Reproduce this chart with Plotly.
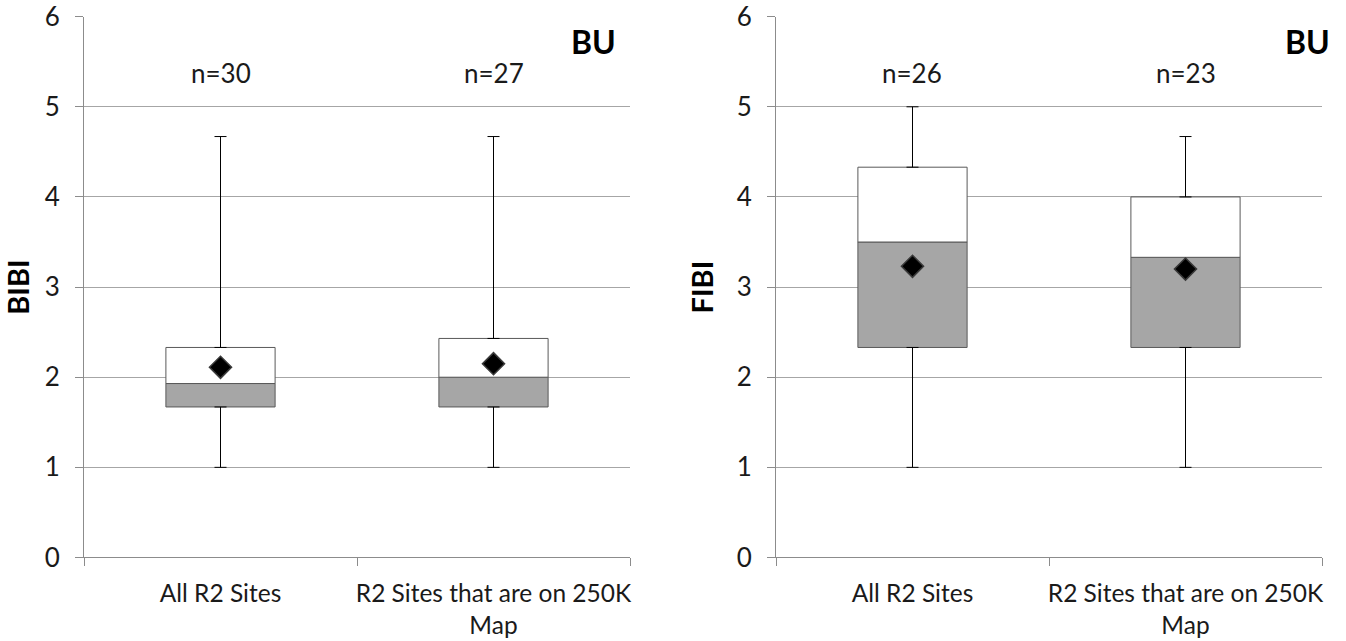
import plotly.graph_objects as go
from plotly.subplots import make_subplots

# Site groups
categories = ["All R2 Sites", "R2 Sites that are on 250K<br>Map"]

# BIBI summary statistics
bibi_min = [1.0, 1.0]
bibi_q1 = [1.67, 1.67]
bibi_median = [1.93, 2.0]
bibi_q3 = [2.33, 2.43]
bibi_max = [4.67, 4.67]
bibi_mean = [2.11, 2.15]
bibi_n = [30, 27]

# FIBI summary statistics
fibi_min = [1.0, 1.0]
fibi_q1 = [2.33, 2.33]
fibi_median = [3.5, 3.33]
fibi_q3 = [4.33, 4.0]
fibi_max = [5.0, 4.67]
fibi_mean = [3.23, 3.2]
fibi_n = [26, 23]

y_ticks = [0, 1, 2, 3, 4, 5, 6]
panel_label = "BU"

FONT = "Lato"
TEXT = "#1a1a1a"
GRID = "#a6a6a6"
AXIS = "#8c8c8c"
BOX_LINE = "#595959"
BOX_FILL = "#a6a6a6"

fig = make_subplots(rows=1, cols=2)


def add_panel(col, mins, q1, med, q3, maxs, mean):
    # lower half of the box: Q1 -> median
    fig.add_trace(go.Bar(
        x=categories, y=[m - a for m, a in zip(med, q1)], base=q1,
        width=0.4, marker=dict(color=BOX_FILL, line=dict(color=BOX_LINE, width=1)),
        showlegend=False, hoverinfo="skip"), row=1, col=col)
    # upper half of the box: median -> Q3
    fig.add_trace(go.Bar(
        x=categories, y=[b - m for b, m in zip(q3, med)], base=med,
        width=0.4, marker=dict(color="white", line=dict(color=BOX_LINE, width=1)),
        showlegend=False, hoverinfo="skip"), row=1, col=col)
    # lower whisker
    fig.add_trace(go.Scatter(
        x=categories, y=q1, mode="markers", marker=dict(opacity=0),
        error_y=dict(type="data", symmetric=False, array=[0, 0],
                     arrayminus=[a - b for a, b in zip(q1, mins)],
                     color="black", thickness=1, width=6),
        showlegend=False, hoverinfo="skip"), row=1, col=col)
    # upper whisker
    fig.add_trace(go.Scatter(
        x=categories, y=q3, mode="markers", marker=dict(opacity=0),
        error_y=dict(type="data", symmetric=False,
                     array=[a - b for a, b in zip(maxs, q3)], arrayminus=[0, 0],
                     color="black", thickness=1, width=6),
        showlegend=False, hoverinfo="skip"), row=1, col=col)
    # mean
    fig.add_trace(go.Scatter(
        x=categories, y=mean, mode="markers",
        marker=dict(symbol="diamond", size=17, color="black",
                    line=dict(color="#3a3a3a", width=1.5)),
        showlegend=False), row=1, col=col)


add_panel(1, bibi_min, bibi_q1, bibi_median, bibi_q3, bibi_max, bibi_mean)
add_panel(2, fibi_min, fibi_q1, fibi_median, fibi_q3, fibi_max, fibi_mean)

axis_x = dict(type="category", tickson="boundaries", ticks="outside", ticklen=8,
              tickcolor=AXIS, showline=True, linecolor=AXIS, linewidth=1,
              showgrid=False, tickfont=dict(family=FONT, size=24.5, color=TEXT),
              tickangle=0, ticklabelstandoff=14,
              range=[-0.5, 1.5], fixedrange=True, automargin=False)
axis_y = dict(range=[0, 6], tickvals=y_ticks, ticks="outside", ticklen=8,
              tickcolor=AXIS, showline=True, linecolor=AXIS, linewidth=1,
              showgrid=True, gridcolor=GRID, gridwidth=1, zeroline=False,
              tickfont=dict(family=FONT, size=26, color=TEXT),
              ticklabelstandoff=10, ticklabeloverflow="allow", automargin=False)

fig.update_layout(
    width=1346, height=641, margin=dict(l=0, r=0, t=0, b=0),
    paper_bgcolor="white", plot_bgcolor="white", barmode="overlay",
    xaxis=dict(axis_x, domain=[84 / 1346, 630 / 1346]),
    xaxis2=dict(axis_x, domain=[776 / 1346, 1322 / 1346]),
    yaxis=dict(axis_y, domain=[0.1303, 0.974],
               title=dict(text="<b>BIBI</b>", standoff=14,
                          font=dict(family=FONT, size=29, color="black"))),
    yaxis2=dict(axis_y, domain=[0.1303, 0.974],
                title=dict(text="<b>FIBI</b>", standoff=14,
                           font=dict(family=FONT, size=29, color="black"))),
)

annotations = []
for xref, yref, ns in (("x", "y", bibi_n), ("x2", "y2", fibi_n)):
    for cat, n in zip(categories, ns):
        annotations.append(dict(x=cat, y=5.37, xref=xref, yref=yref, text=f"n={n}",
                                showarrow=False, yanchor="middle",
                                font=dict(family=FONT, size=26, color=TEXT)))
annotations.append(dict(x=0.978, y=5.72, xref="x domain", yref="y", text=f"<b>{panel_label}</b>",
                        showarrow=False, xanchor="right", yanchor="middle",
                        font=dict(family=FONT, size=32, color="black")))
annotations.append(dict(x=1.018, y=5.72, xref="x2 domain", yref="y2", text=f"<b>{panel_label}</b>",
                        showarrow=False, xanchor="right", yanchor="middle",
                        font=dict(family=FONT, size=32, color="black")))
fig.update_layout(annotations=annotations)

fig.write_html("out.html")
